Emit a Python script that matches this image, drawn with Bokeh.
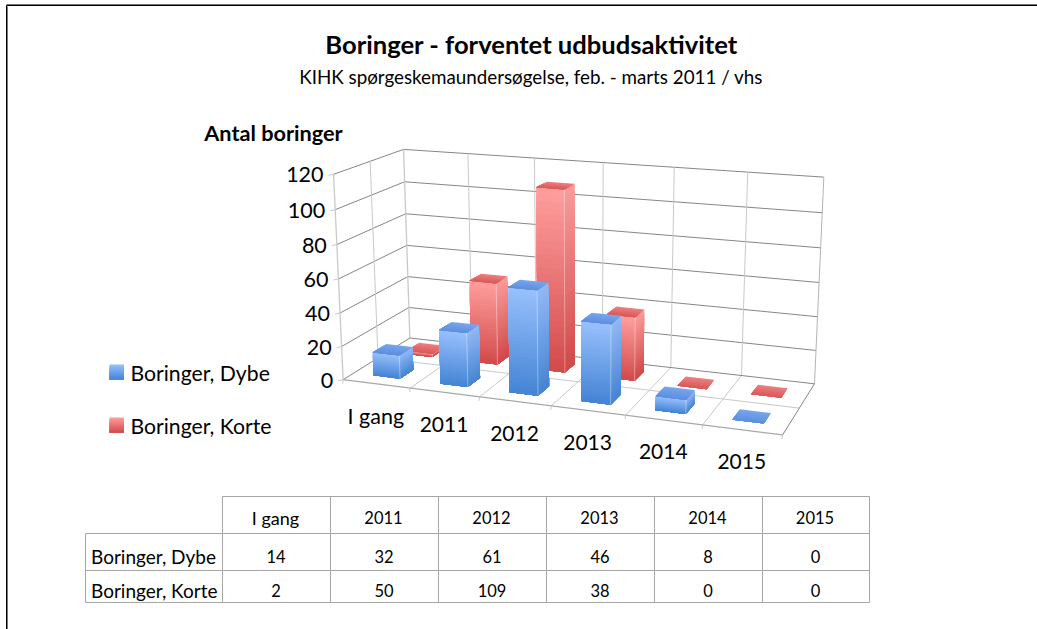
import numpy as np
from bokeh.plotting import figure
from bokeh.models import Range1d
from bokeh.core.properties import value
from bokeh.embed import file_html
from bokeh.resources import INLINE

# ---- data
categories = ["I gang", "2011", "2012", "2013", "2014", "2015"]
dybe = [14, 32, 61, 46, 8, 0]
korte = [2, 50, 109, 38, 0, 0]
series_names = ["Boringer, Dybe", "Boringer, Korte"]
value_ticks = [0, 20, 40, 60, 80, 100, 120]
title = "Boringer - forventet udbudsaktivitet"
subtitle = "KIHK spørgeskemaundersøgelse, feb. - marts 2011 / vhs"
axis_title = "Antal boringer"

FONT = value("Lato")
W, H = 1037, 629

# ---- 3D camera: calibrated on the box corners (cat, depth, value) -> page pixel
anchors = [
    (0,2,120,403,149),(1,2,120,467,154),(2,2,120,534,158),(3,2,120,603,162),
    (4,2,120,674,167),(5,2,120,747,172),(6,2,120,824,176),
    (0,0,0,343,379),(1,0,0,410,388),(2,0,0,479,397),(3,0,0,550,405),
    (4,0,0,625,415),(5,0,0,702,425),(6,0,0,782,434),
    (0,2,0,409,337),(4,2,0,671,367),(5,2,0,741,375),(6,2,0,814,383),
    (0,0,120,333,173),(0,0,100,335,209),(0,2,100,404,181),(6,2,100,821,212),
]
A = []
for c, d, v, px, py in anchors:
    X = [c/6, d/2, v/120, 1]
    u, w = px/1000, py/1000
    A.append(X + [0]*4 + [-u*t for t in X])
    A.append([0]*4 + X + [-w*t for t in X])
M = np.linalg.svd(np.array(A))[2][-1].reshape(3, 4)

def proj(c, d, v):
    r = M @ np.array([c/6, d/2, v/120, 1.0])
    return r[0]/r[2]*1000, r[1]/r[2]*1000

def hexmix(a, b, t):
    a = np.array(a, float); b = np.array(b, float)
    return "#%02x%02x%02x" % tuple(int(round(x)) for x in a + (b-a)*t)

p = figure(width=W, height=H, x_range=Range1d(0, W), y_range=Range1d(H, 0),
           x_axis_type=None, y_axis_type=None, toolbar_location=None,
           output_backend="svg", min_border=0, outline_line_color=None,
           background_fill_color="white", border_fill_color="white")
p.grid.visible = False
p.styles = {"position": "absolute", "left": "0px", "top": "0px"}

def seg(points, color, width=1.0):
    p.line([q[0] for q in points], [q[1] for q in points], line_color=color, line_width=width)

# page frame
seg([(6, H), (6, 5)], "#000000"); seg([(7, H), (7, 6)], "#777777")
seg([(6, 4), (W, 4)], "#777777"); seg([(6, 5), (W, 5)], "#000000")

DARK, LIGHT = "#868686", "#c9c9c9"
# walls
for v in value_ticks[1:]:
    seg([proj(0,0,v), proj(0,2,v), proj(6,2,v)], DARK)
for c in range(1, 6):
    seg([proj(c,2,0), proj(c,2,120)], LIGHT)
seg([proj(0,1,0), proj(0,1,120)], LIGHT)
seg([proj(0,2,0), proj(0,2,120)], LIGHT, 1.3)
seg([proj(6,2,0), proj(6,2,120)], "#b4b4b4")
seg([proj(0,0,0), proj(0,0,120)], LIGHT, 1.3)
# floor
for c in range(1, 6):
    seg([proj(c,0,0), proj(c,2,0)], LIGHT)
seg([proj(0,1,0), proj(6,1,0)], LIGHT)
seg([proj(0,0,0), proj(0,2,0), proj(6,2,0), proj(6,0,0)], DARK)
seg([proj(0,0,0), proj(6,0,0)], "#a8a8a8", 1.3)
# tick marks
for c in range(7):
    x, y = proj(c,0,0)
    seg([(x, y), (x-0.5, y+4)], LIGHT)
for v in value_ticks:
    x, y = proj(0,0,v)
    seg([(x, y), (x-5, y+1)], LIGHT)

# bars
palette = {
    0: dict(ft=(0x98,0xC0,0xFD), fb=(0x44,0x84,0xD4), st=(0x92,0xB9,0xF7), sb=(0x44,0x84,0xD2),
            tb=(0x78,0xA6,0xEE), tf=(0x5C,0x8F,0xDE)),
    1: dict(ft=(0xFF,0x9E,0x9E), fb=(0xD2,0x4A,0x4A), st=(0xFC,0x9A,0x9A), sb=(0xD0,0x48,0x48),
            tb=(0xEE,0x80,0x80), tf=(0xD8,0x58,0x58)),
}
xs, ys, cols = [], [], []
edge_x, edge_y = [], []
N = 28
def face(pts, col):
    xs.append([q[0] for q in pts]); ys.append([q[1] for q in pts]); cols.append(col)

for s, vals in [(1, korte), (0, dybe)]:
    pal = palette[s]
    d0, d1 = s + 0.3, s + 0.7
    for i, val in enumerate(vals):
        c0, c1 = i + 0.3, i + 0.7
        if val > 0:
            # each strip runs to the foot of the bar and the next one paints over it
            for k in range(N):
                v0 = val*(1-k/N)
                face([proj(c1,d0,v0), proj(c1,d1,v0), proj(c1,d1,0), proj(c1,d0,0)],
                     hexmix(pal["st"], pal["sb"], (k+.5)/N))
            for k in range(N):
                v0 = val*(1-k/N)
                face([proj(c0,d0,v0), proj(c1,d0,v0), proj(c1,d0,0), proj(c0,d0,0)],
                     hexmix(pal["ft"], pal["fb"], (k+.5)/N))
        for k in range(10):
            da = d1 + (d0-d1)*k/10
            face([proj(c0,da,val), proj(c1,da,val), proj(c1,d0,val), proj(c0,d0,val)],
                 hexmix(pal["tb"], pal["tf"], (k+.5)/10))
        if val > 0:
            pts = [proj(c1,d0,0), proj(c1,d0,val)]
            edge_x.append((pts[0][0], pts[1][0])); edge_y.append((pts[0][1], pts[1][1]))
    # drawn per series so the front series covers the back one
    p.patches(xs=list(xs), ys=list(ys), fill_color=list(cols), line_color=None)
    p.multi_line(xs=[list(e) for e in edge_x], ys=[list(e) for e in edge_y],
                 line_color="white", line_alpha=0.35, line_width=1)
    xs, ys, cols, edge_x, edge_y = [], [], [], [], []

def text(x, y, s, size, align="center", style="normal", color="#000000"):
    p.text([x], [y], text=[s], text_font=FONT, text_font_size=f"{size}px",
           text_align=align, text_baseline="middle", text_font_style=style, text_color=color)

# value labels
for v in value_ticks:
    x, y = proj(0,0,v)
    text(x-10, y+0.5, str(v), 21.5, "right")
# category labels
for i, name in enumerate(categories):
    x, y = proj(i+0.5,0,0)
    text(x-0.5, y+32, name, 21.5 if name == "I gang" else 21)

# titles
text(531, 43.5, title, 25.6, style="bold")
text(530.5, 76, subtitle, 18.8)
text(273, 132.5, axis_title, 21.7, style="bold")

# legend
for k, (name, yc) in enumerate(zip(series_names, [372, 425])):
    pal = palette[k]
    for j in range(12):
        y0 = yc - 8 + j*15/12
        p.quad(left=[109], right=[123.5], top=[y0], bottom=[yc+7],
               fill_color=hexmix(pal["ft"], pal["fb"], (j+.5)/12), line_color=None)
    text(130, yc, name, 21.2, "left")

# data table
TBL = "#a6a6a6"
col_x = [85, 222, 330, 438, 546, 654, 762, 869]
row_y = [496, 533, 570, 602]
seg([(col_x[1], row_y[0]), (col_x[-1], row_y[0])], TBL)
seg([(col_x[0], row_y[1]), (col_x[-1], row_y[1])], TBL)
seg([(col_x[0], row_y[2]), (col_x[-1], row_y[2])], TBL)
seg([(col_x[0], row_y[3]), (col_x[-1], row_y[3])], TBL)
seg([(col_x[0], row_y[1]), (col_x[0], row_y[3])], TBL)
for x in col_x[1:]:
    seg([(x, row_y[0]), (x, row_y[3])], TBL)
for j, name in enumerate(categories):
    text((col_x[j+1]+col_x[j+2])/2-1, 517, name, 18 if name == "I gang" else 16.5)
for r, (name, vals) in enumerate(zip(series_names, [dybe, korte])):
    yc = [556, 590][r]
    text(col_x[0]+5.5, yc, name, 19, "left")
    for j, v in enumerate(vals):
        text((col_x[j+1]+col_x[j+2])/2-0.5, yc, str(v), 16.5)

open("out.html", "w").write(file_html(p, INLINE))
